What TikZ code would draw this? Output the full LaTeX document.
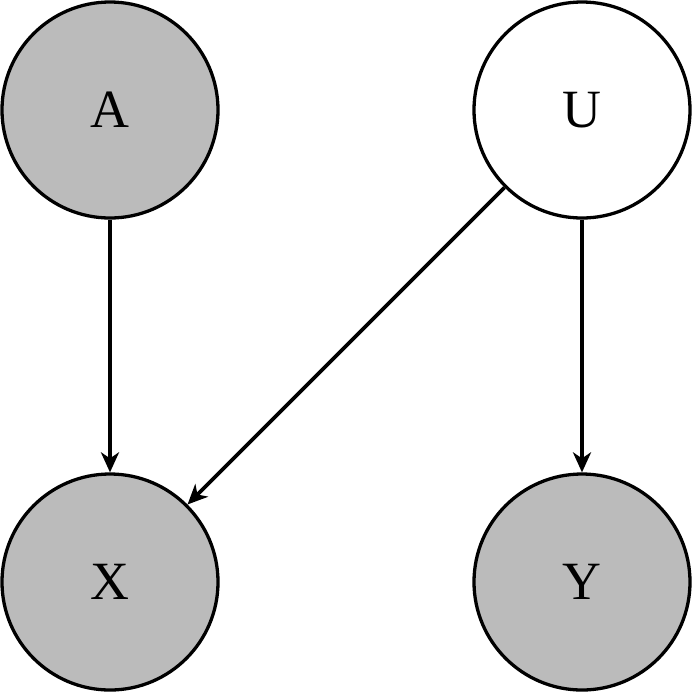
\documentclass[tikz,border=0pt]{standalone}
\usepackage{fontspec}
\setmainfont{Liberation Serif}
\usetikzlibrary{arrows.meta}
\begin{document}
\begin{tikzpicture}[x=0.03cm,y=-0.03cm,
  var/.style={circle,draw=black,line width=2.8pt,minimum size=216*0.03cm,inner sep=0pt,font=\fontsize{46}{52}\selectfont},
  obs/.style={var,fill=obsgray},
  edge/.style={line width=3.2pt,-{Stealth[length=20*0.03cm,width=18*0.03cm,inset=6*0.03cm]}}]
\definecolor{obsgray}{RGB}{187,187,187}
\useasboundingbox (0,0) rectangle (696,692);
\node[obs] (A) at (110,110) {A};
\node[var] (U) at (582,110) {U};
\node[obs] (X) at (110,582) {X};
\node[obs] (Y) at (582,582) {Y};
\draw[edge] (A) -- (X);
\draw[edge] (U) -- (X);
\draw[edge] (U) -- (Y);
\end{tikzpicture}
\end{document}
